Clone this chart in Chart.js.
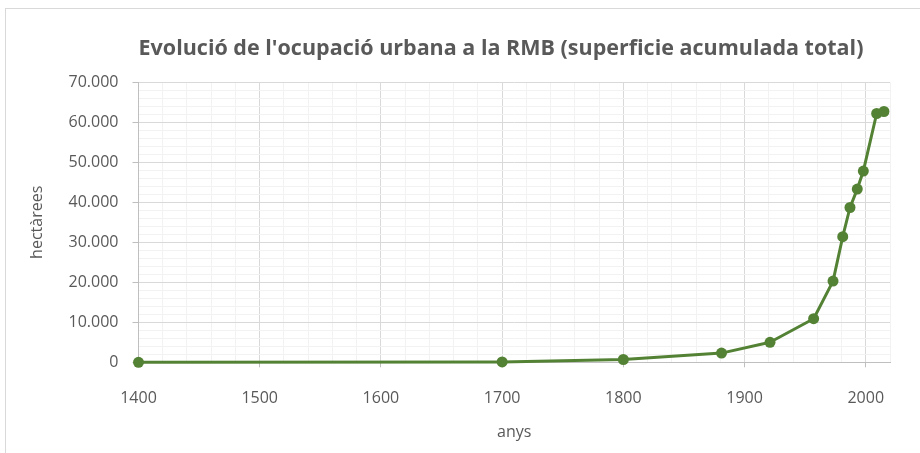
<!DOCTYPE html>
<html>
<head>
<meta charset="utf-8">
<script src="https://cdn.jsdelivr.net/npm/chart.js@4/dist/chart.umd.min.js"></script>
<style>
  html, body { margin: 0; padding: 0; background: #fff; overflow: hidden; }
  #frame {
    position: absolute; left: 5px; top: 8px;
    width: 990px; height: 460px;
    border: 1px solid #d9d9d9;
  }
  canvas { display: block; }
</style>
</head>
<body>
<div id="frame">
  <canvas id="urbanChart" width="990" height="444"></canvas>
</div>
<script>
  // anys i superficie acumulada (ha), llegits del grafic
  const years    = [1400, 1700, 1800, 1881, 1921, 1957, 1973, 1981, 1987, 1993, 1998, 2009, 2015];
  const hectares = [0, 100, 700, 2300, 5000, 10900, 20300, 31400, 38700, 43300, 47800, 62200, 62700];

  const xTicks = [1400, 1500, 1600, 1700, 1800, 1900, 2000];
  const yTicks = [0, 10000, 20000, 30000, 40000, 50000, 60000, 70000];

  const chartTitle = "Evolució de l'ocupació urbana a la RMB (superficie acumulada total)";
  const xTitle = 'anys';
  const yTitle = 'hectàrees';

  const green = '#548235';
  const textGray = '#595959';
  const majorGrid = '#d9d9d9';
  const minorGrid = '#f2f2f2';
  const axisGray = '#bfbfbf';

  function fmt(v) {
    return String(v).replace(/\B(?=(\d{3})+(?!\d))/g, '.');
  }

  // the title is centred on the whole (wider) chart frame, not on the padded area,
  // so it is drawn here instead of through the title plugin
  const frameTitle = {
    id: 'frameTitle',
    afterDraw(chart) {
      const ctx = chart.ctx;
      ctx.save();
      ctx.font = 'bold 21.5px "Open Sans"';
      ctx.fillStyle = textGray;
      ctx.textAlign = 'center';
      ctx.textBaseline = 'alphabetic';
      ctx.fillText(chartTitle, chart.width / 2, 46.3);
      ctx.restore();
    }
  };

  function drawChart() {
    const points = years.map((y, i) => ({ x: y, y: hectares[i] }));

    new Chart(document.getElementById('urbanChart'), {
      type: 'line',
      data: {
        datasets: [{
          label: 'superficie',
          data: points,
          borderColor: green,
          backgroundColor: green,
          borderWidth: 3,
          pointRadius: 5.5,
          pointBorderWidth: 0,
          pointBackgroundColor: green,
          borderJoinStyle: 'round',
          tension: 0,
          clip: false
        }]
      },
      plugins: [frameTitle],
      options: {
        responsive: false,
        animation: false,
        layout: { padding: { left: 10, right: 106, top: 73.3, bottom: 10.7 } },
        plugins: {
          legend: { display: false },
          tooltip: { enabled: false },
          title: { display: false }
        },
        scales: {
          x: {
            type: 'linear',
            min: 1400,
            max: 2020,
            afterFit: (scale) => { scale.height = 80; },
            ticks: {
              stepSize: 20,
              autoSkip: false,
              maxRotation: 0,
              padding: 22,
              color: textGray,
              font: { family: 'Open Sans', size: 16 },
              callback: (v) => xTicks.includes(v) ? String(v) : ''
            },
            grid: {
              color: (ctx) => ctx.tick && xTicks.includes(ctx.tick.value) ? majorGrid : minorGrid,
              tickColor: (ctx) => ctx.tick && xTicks.includes(ctx.tick.value) ? axisGray : 'transparent',
              tickLength: 5,
              lineWidth: 1
            },
            border: { color: axisGray, width: 1 },
            title: {
              display: true,
              text: xTitle,
              color: textGray,
              font: { family: 'Open Sans', size: 16 },
              padding: 0
            }
          },
          y: {
            min: 0,
            max: 70000,
            afterFit: (scale) => { scale.width = 122.5; },
            ticks: {
              stepSize: 2000,
              autoSkip: false,
              padding: 14,
              color: textGray,
              font: { family: 'Open Sans', size: 16 },
              callback: (v) => yTicks.includes(v) ? fmt(v) : ''
            },
            grid: {
              color: (ctx) => ctx.tick && yTicks.includes(ctx.tick.value) ? majorGrid : minorGrid,
              tickColor: (ctx) => ctx.tick && yTicks.includes(ctx.tick.value) ? axisGray : 'transparent',
              tickLength: 6,
              lineWidth: 1
            },
            border: { color: axisGray, width: 1 },
            title: {
              display: true,
              text: yTitle,
              color: textGray,
              font: { family: 'Open Sans', size: 16 },
              padding: { top: 12, bottom: 0 }
            }
          }
        }
      }
    });
  }

  // make sure the canvas gets the real fonts, not the fallback
  Promise.all([
    document.fonts.load('16px "Open Sans"'),
    document.fonts.load('bold 21.5px "Open Sans"')
  ]).then(drawChart, drawChart);
</script>
</body>
</html>
